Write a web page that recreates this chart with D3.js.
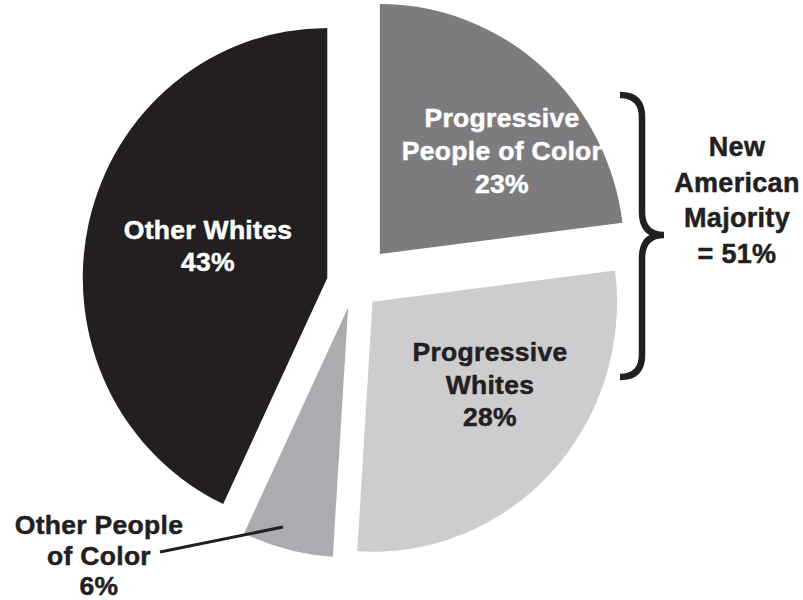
<!DOCTYPE html>
<html>
<head>
<meta charset="utf-8">
<script src="https://cdn.jsdelivr.net/npm/d3@7"></script>
<style>
  body { margin: 0; background: #fff; }
  svg text { font-family: "Liberation Sans", Arial, Helvetica, sans-serif; font-weight: bold; }
</style>
</head>
<body>
<svg id="chart" width="803" height="600"></svg>
<script>
// slices clockwise from 12 o'clock
const categories = ["Progressive People of Color", "Progressive Whites", "Other People of Color", "Other Whites"];
const shares = [23, 28, 6, 43];
const labelLines = [
  ["Progressive", "People of Color"],
  ["Progressive", "Whites"],
  ["Other People", "of Color"],
  ["Other Whites"]
];
const majorityLines = ["New", "American", "Majority"];

// styling / layout
const colors = ["#7c7c7f", "#cdcdcf", "#abacaf", "#231f20"];
const textColors = ["#fff", "#231f20", "#231f20", "#fff"];
const explode = [40, 26, 24, 28];          // how far each slice is pulled out
const labelAt = [[502, 127], [490, 361], [99, 534], [208, 239]];   // centre x, first baseline
const lineGap = [33, 32.5, 30.5, 32];
const fontSize = 26.5;

const svg = d3.select("#chart");
const cx = 354, cy = 284, R = 250;

const pie = d3.pie().sort(null).value(d => d.share);
const arc = d3.arc().innerRadius(0).outerRadius(R);

const rows = categories.map((c, i) => ({ name: c, share: shares[i], i }));
const arcs = pie(rows);

const g = svg.append("g").attr("transform", `translate(${cx},${cy}) scale(0.978,1)`);

g.selectAll("path")
  .data(arcs)
  .join("path")
  .attr("d", arc)
  .attr("fill", d => colors[d.data.i])
  .attr("transform", d => {
    const a = (d.startAngle + d.endAngle) / 2;
    const k = explode[d.data.i];
    return `translate(${k * Math.sin(a)},${-k * Math.cos(a)})`;
  });

// slice labels
arcs.forEach(d => {
  const i = d.data.i;
  const lines = [...labelLines[i], `${shares[i]}%`];
  const t = svg.append("text")
    .attr("text-anchor", "middle")
    .attr("font-size", fontSize)
    .attr("letter-spacing", 0.3)
    .attr("fill", textColors[i])
    .attr("stroke", textColors[i])
    .attr("stroke-width", 0.5);
  lines.forEach((s, j) => {
    t.append("tspan")
      .attr("x", labelAt[i][0])
      .attr("y", labelAt[i][1] + j * lineGap[i])
      .text(s);
  });
});

// leader for the small slice
svg.append("line")
  .attr("x1", 160).attr("y1", 552)
  .attr("x2", 283).attr("y2", 527)
  .attr("stroke", "#231f20")
  .attr("stroke-width", 3);

// brace grouping the two progressive slices
svg.append("path")
  .attr("d", "M620,95 Q642,95 642,117 L642,212 Q642,235 664,235 Q642,235 642,258 L642,355 Q642,377 620,377")
  .attr("fill", "none")
  .attr("stroke", "#231f20")
  .attr("stroke-width", 6.5);

const majText = svg.append("text")
  .attr("text-anchor", "middle")
  .attr("font-size", fontSize + 0.5)
  .attr("letter-spacing", 0.3)
  .attr("fill", "#231f20")
  .attr("stroke", "#231f20")
  .attr("stroke-width", 0.5);
[...majorityLines, `= ${shares[0] + shares[1]}%`].forEach((s, j) => {
  majText.append("tspan")
    .attr("x", 737)
    .attr("y", 156 + j * 35.7)
    .text(s);
});
</script>
</body>
</html>
